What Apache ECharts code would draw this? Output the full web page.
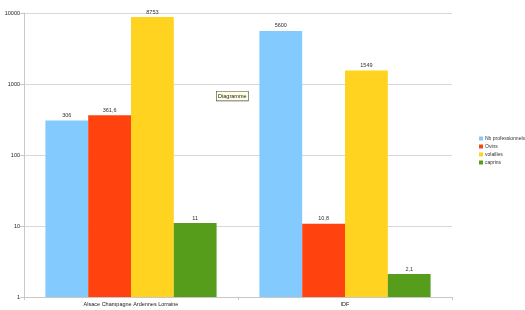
<!DOCTYPE html>
<html><head><meta charset="utf-8">
<script src="https://cdn.jsdelivr.net/npm/echarts@6/dist/echarts.min.js"></script>
<style>html,body{margin:0;padding:0;background:#fff}#c{width:525px;height:310px}</style>
</head><body><div id="c"></div>
<script>
const categories = ["Alsace Champagne Ardennes Lorraine", "IDF"];
const seriesNames = ["Nb professionnels", "Ovins", "volailles", "caprins"];
const nbPro = [306, 5600];
const ovins = [361.6, 10.8];
const volailles = [8753, 1549];
const caprins = [11, 2.1];
const colors = ["#83caff", "#ff420e", "#ffd320", "#579d1c"];
const yTicks = [1, 10, 100, 1000, 10000];

const chart = echarts.init(document.getElementById('c'));
const fmt = v => String(v).replace('.', ',');
const dataSets = [nbPro, ovins, volailles, caprins];
chart.setOption({
  animation: false,
  textStyle: {fontFamily: 'Liberation Sans'},
  grid: {left: 24, right: 73, top: 13, bottom: 13},
  legend: {
    orient: 'vertical', left: 474, top: 131, itemWidth: 4, itemHeight: 4, itemGap: 3,
    icon: 'rect', textStyle: {fontSize: 5, color: '#333', padding: [0, 0, 0, -3]},
    data: seriesNames
  },
  xAxis: {
    type: 'category', data: categories,
    axisLine: {lineStyle: {color: '#c8c8c8'}},
    axisTick: {show: true, length: 3, lineStyle: {color: '#c8c8c8'}},
    axisLabel: {fontSize: 5.5, color: '#222', margin: 4}
  },
  yAxis: {
    type: 'log', logBase: 10, min: yTicks[0], max: yTicks[yTicks.length - 1],
    axisLine: {show: true, lineStyle: {color: '#c8c8c8'}},
    axisTick: {show: true, length: 4, lineStyle: {color: '#c8c8c8'}},
    splitLine: {lineStyle: {color: '#d8d8d8'}},
    axisLabel: {fontSize: 5.5, color: '#222', margin: 4, formatter: v => String(Math.round(v))}
  },
  series: seriesNames.map((n, i) => ({
    name: n, type: 'bar', data: dataSets[i],
    barGap: '0%', barCategoryGap: '20%',
    itemStyle: {color: colors[i]},
    label: {show: true, position: 'top', fontSize: 5.5, color: '#333', distance: 2,
      formatter: p => fmt(p.value)}
  })),
  graphic: [{
    type: 'text', left: 216, top: 91,
    style: {text: 'Diagramme', fontSize: 5.5, fill: '#222', backgroundColor: '#ffffe6',
      borderColor: '#444', borderWidth: 0.6, padding: [1.5, 1.5]}
  }]
});
</script></body></html>
